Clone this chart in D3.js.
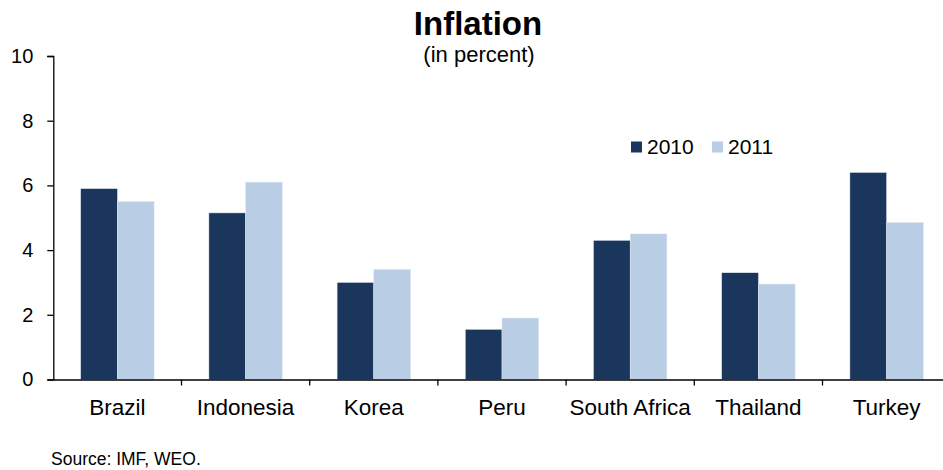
<!DOCTYPE html>
<html>
<head>
<meta charset="utf-8">
<script src="https://cdn.jsdelivr.net/npm/d3@7"></script>
<style>
  body { margin: 0; background: #fff; }
  text { font-family: Arial, "Liberation Sans", sans-serif; fill: #000; }
</style>
</head>
<body>
<svg id="chart"></svg>
<script>
const categories = ['Brazil', 'Indonesia', 'Korea', 'Peru', 'South Africa', 'Thailand', 'Turkey']
const seriesNames = ['2010', '2011']
const values2010 = [5.9, 5.15, 3.0, 1.55, 4.3, 3.3, 6.4]
const values2011 = [5.5, 6.1, 3.4, 1.9, 4.5, 2.95, 4.85]
const yTicks = [0, 2, 4, 6, 8, 10]
const colors = ['#1a365d', '#b9cde5']

const width = 943, height = 470
const plotLeft = 53.3, zero = 379.5, plotTop = 56

const svg = d3.select('#chart').attr('width', width).attr('height', height)

const x = d3.scaleBand().domain(categories).range([plotLeft, plotLeft + 128.2 * categories.length]).paddingInner(0).paddingOuter(0)
const x1 = d3.scaleBand().domain(seriesNames).range([27.4, 128.2 - 27.4])
const y = d3.scaleLinear().domain([0, 10]).range([zero, plotTop])

const rows = categories.map((c, i) => ({ c, vals: [values2010[i], values2011[i]] }))

// bars
const groups = svg.append('g').selectAll('g')
  .data(rows).enter().append('g')
  .attr('transform', d => `translate(${x(d.c)},0)`)

groups.selectAll('rect')
  .data(d => d.vals.map((v, k) => ({ v, k })))
  .enter().append('rect')
  .attr('x', d => x1(seriesNames[d.k]))
  .attr('width', x1.bandwidth())
  .attr('y', d => y(d.v))
  .attr('height', d => zero - y(d.v))
  .attr('fill', d => colors[d.k])
  .attr('stroke', '#dde6f0')
  .attr('stroke-width', 0.5)

// y axis
const yAxis = svg.append('g')
  .attr('transform', `translate(${plotLeft},0)`)
  .call(d3.axisLeft(y).tickValues(yTicks).tickSize(6).tickPadding(14))
yAxis.select('.domain').attr('stroke', '#000').attr('stroke-width', 1.3)
yAxis.selectAll('.tick line').attr('stroke', '#000').attr('stroke-width', 1.3)
yAxis.selectAll('text').style('font-size', '20px').attr('font-family', 'Arial, Liberation Sans, sans-serif')

// x axis
const xAxis = svg.append('g')
  .attr('transform', `translate(0,${zero})`)
  .call(d3.axisBottom(x).tickSize(0).tickPadding(20))
xAxis.select('.domain').attr('stroke', '#000').attr('stroke-width', 1.3)
xAxis.selectAll('text').style('font-size', '22.5px').attr('font-family', 'Arial, Liberation Sans, sans-serif')

// x tick marks on category boundaries
svg.append('g').selectAll('line')
  .data(categories.slice(1))
  .enter().append('line')
  .attr('x1', d => x(d)).attr('x2', d => x(d))
  .attr('y1', zero).attr('y2', zero + 6)
  .attr('stroke', '#000').attr('stroke-width', 1.3)

// title
svg.append('text').attr('x', 478).attr('y', 35).attr('text-anchor', 'middle')
  .style('font-size', '33px').style('font-weight', 'bold').text('Inflation')
svg.append('text').attr('x', 479).attr('y', 62).attr('text-anchor', 'middle')
  .style('font-size', '22px').text('(in percent)')

// legend
const legend = svg.append('g').attr('transform', 'translate(631,147)')
const lg = legend.selectAll('g').data(seriesNames).enter().append('g')
  .attr('transform', (d, i) => `translate(${i * 81},0)`)
lg.append('rect').attr('x', 0).attr('y', -5.5).attr('width', 11).attr('height', 11)
  .attr('fill', (d, i) => colors[i])
lg.append('text').attr('x', 16).attr('y', 6.5).style('font-size', '21px').text(d => d)

// source
svg.append('text').attr('x', 51).attr('y', 465).style('font-size', '17.5px').text('Source: IMF, WEO.')
</script>
</body>
</html>
